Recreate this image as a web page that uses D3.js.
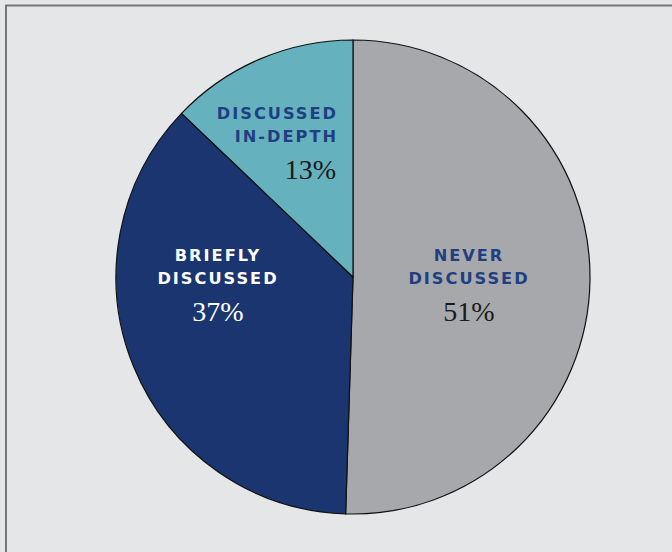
<!DOCTYPE html>
<html>
<head>
<meta charset="utf-8">
<script src="https://cdn.jsdelivr.net/npm/d3@7"></script>
<style>
  html, body { margin: 0; padding: 0; background: #e5e6e8; }
  svg { display: block; }
</style>
</head>
<body>
<script>
// chart values
const categories = ['Never discussed', 'Briefly discussed', 'Discussed in-depth'];
const values = [51, 37, 13];
const labelLines = [['NEVER', 'DISCUSSED'], ['BRIEFLY', 'DISCUSSED'], ['DISCUSSED', 'IN-DEPTH']];
const percentLabels = ['51%', '37%', '13%'];

const width = 672, height = 552;
const cx = 353, cy = 277, radius = 237;

const color = d3.scaleOrdinal()
    .domain(categories)
    .range(['#a7a8ab', '#1a3570', '#65b1bd']);

const labelColor = d3.scaleOrdinal()
    .domain(categories)
    .range(['#1f3f82', '#ffffff', '#1f3f82']);

const pctColor = d3.scaleOrdinal()
    .domain(categories)
    .range(['#1a1a1a', '#ffffff', '#1a1a1a']);

const svg = d3.select('body').append('svg')
    .attr('width', width)
    .attr('height', height);

// frame (only top and left edges visible in the crop)
svg.append('path')
    .attr('d', `M6,${height} V5.5 H${width}`)
    .attr('fill', 'none')
    .attr('stroke', '#777777')
    .attr('stroke-width', 2);

const pie = d3.pie().sort(null).value(d => d.value);
const arc = d3.arc().innerRadius(0).outerRadius(radius);

const data = categories.map((c, i) => ({
    cat: c, value: values[i], lines: labelLines[i], pct: percentLabels[i]
}));

const g = svg.append('g').attr('transform', `translate(${cx},${cy})`);

g.selectAll('path.slice')
    .data(pie(data))
    .join('path')
    .attr('class', 'slice')
    .attr('d', arc)
    .attr('fill', d => color(d.data.cat))
    .attr('stroke', '#111')
    .attr('stroke-width', 1.2);

// label anchors, relative to the centre
const labelPos = [
    { x: 116, y: -16, anchor: 'middle' },
    { x: -135, y: -16, anchor: 'middle' },
    { x: -15, y: -158, anchor: 'end' }
];

const labels = g.selectAll('g.label')
    .data(data)
    .join('g')
    .attr('class', 'label')
    .attr('transform', (d, i) => `translate(${labelPos[i].x},${labelPos[i].y})`);

labels.each(function (d, i) {
    const el = d3.select(this);
    const anchor = labelPos[i].anchor;
    el.selectAll('text.cat')
        .data(d.lines)
        .join('text')
        .attr('class', 'cat')
        .attr('y', (l, j) => j * 23)
        .attr('text-anchor', anchor)
        .attr('fill', labelColor(d.cat))
        .style('font-family', '"DejaVu Sans", sans-serif')
        .style('font-weight', 'bold')
        .style('font-size', '16.2px')
        .style('letter-spacing', '2px')
        .text(l => l);
    el.append('text')
        .attr('y', 60)
        .attr('x', anchor === 'middle' ? 0 : -2)
        .attr('text-anchor', anchor)
        .attr('fill', pctColor(d.cat))
        .style('font-family', '"Liberation Serif", serif')
        .style('font-size', '28px')
        .text(d.pct);
});
</script>
</body>
</html>
